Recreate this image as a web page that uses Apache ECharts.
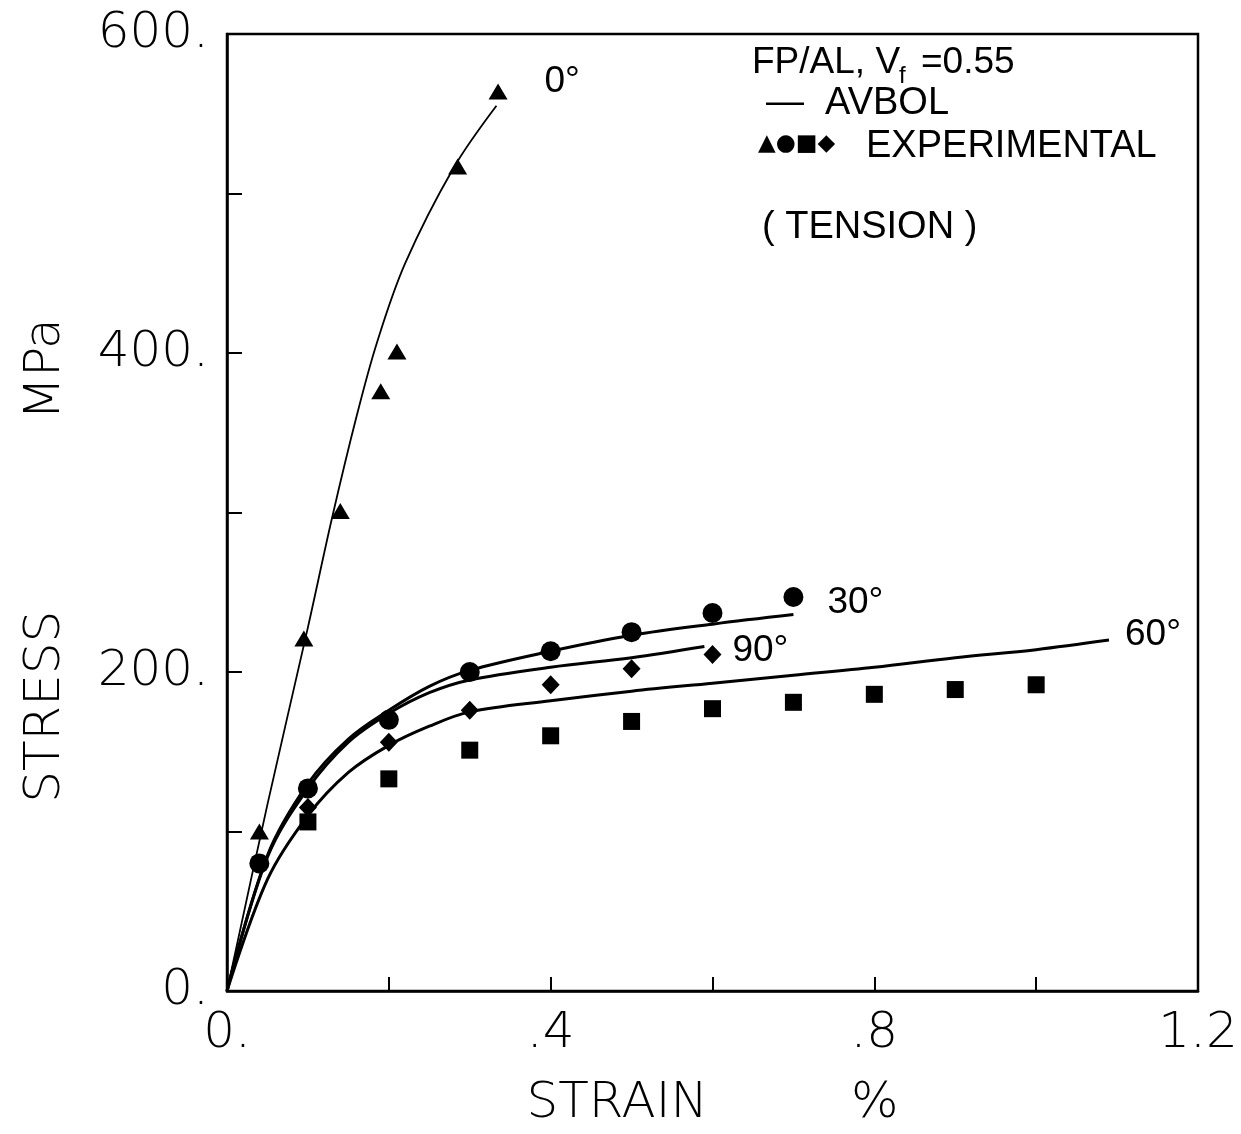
<!DOCTYPE html>
<html>
<head>
<meta charset="utf-8">
<script src="https://cdn.jsdelivr.net/npm/echarts@6/dist/echarts.min.js"></script>
<style>
html,body{margin:0;padding:0;background:#fff;}
#chart{width:1241px;height:1134px;}
</style>
</head>
<body>
<div id="chart"></div>
<script>
// ---- Data ----
// AVBOL model curves (strain %, stress MPa)
const curve0Strain  = [0, 0.05, 0.10, 0.13, 0.16, 0.185, 0.22, 0.28, 0.333];
const curve0Stress  = [0, 117, 228, 297, 360, 406, 456, 516, 555];
const curve30Strain = [0, 0.05, 0.10, 0.15, 0.20, 0.25, 0.30, 0.40, 0.50, 0.60, 0.70];
const curve30Stress = [0, 85, 130, 158, 176, 191, 201, 213, 223, 230, 236];
const curve90Strain = [0, 0.05, 0.10, 0.15, 0.20, 0.25, 0.30, 0.40, 0.50, 0.59];
const curve90Stress = [0, 84, 127, 156, 174, 187, 195, 203, 209, 216];
const curve60Strain = [0, 0.05, 0.10, 0.15, 0.20, 0.25, 0.30, 0.40, 0.50, 0.60, 0.70, 0.80, 0.90, 1.00, 1.09];
const curve60Stress = [0, 70, 110, 137, 154, 166, 175, 182, 188, 193, 198, 203, 209, 214, 220];

// Experimental points
const exp0Strain  = [0.04, 0.095, 0.14, 0.19, 0.21, 0.285, 0.335];
const exp0Stress  = [100, 221, 301, 376, 401, 517, 564];
const exp30Strain = [0.04, 0.1, 0.2, 0.3, 0.4, 0.5, 0.6, 0.7];
const exp30Stress = [80, 127, 170, 200, 213, 225, 237, 247];
const exp90Strain = [0.1, 0.2, 0.3, 0.4, 0.5, 0.6];
const exp90Stress = [115, 156, 176, 192, 202, 211];
const exp60Strain = [0.1, 0.2, 0.3, 0.4, 0.5, 0.6, 0.7, 0.8, 0.9, 1.0];
const exp60Stress = [106, 133, 151, 160, 169, 177, 181, 186, 189, 192];

// Curve labels
const curveNames = ['0°', '30°', '90°', '60°'];

// Tick labels
const xLabelValues = [0, 0.4, 0.8, 1.2];
const xLabelTexts  = ['0.', '.4', '.8', '1.2'];
const yLabelValues = [0, 200, 400, 600];
const yLabelTexts  = ['0.', '200.', '400.', '600.'];

// Texts
const xAxisTitle = ['STRAIN', '%'];
const yAxisTitle = ['STRESS', 'MPa'];
const noteLine1 = ['FP/AL, V', 'f', '=0.55'];
const noteLine2 = '—  AVBOL';
const noteLine3 = ['▲●■◆', 'EXPERIMENTAL'];
const noteLine4 = '( TENSION )';

// ---- Build ----
const zip = (a, b) => a.map((v, i) => [v, b[i]]);
const tickFont = {fontFamily: 'DejaVu Sans', fontSize: 50, fontWeight: 200, color: '#000'};
const noteFont = 'Liberation Sans';

function labelFor(values, texts, v) {
  for (let i = 0; i < values.length; i++) if (Math.abs(values[i] - v) < 1e-6) return texts[i];
  return '';
}

function lineSeries(xs, ys, width, name, offset) {
  return {
    type: 'line', data: zip(xs, ys), smooth: 0.35, symbol: 'none',
    lineStyle: {color: '#000', width: width, opacity: 1},
    endLabel: {show: true, formatter: name, offset: offset, distance: 0,
      fontFamily: noteFont, fontSize: 37, color: '#000'},
    z: 3, silent: true
  };
}
function scatterSeries(xs, ys, symbol, size) {
  return {type: 'scatter', data: zip(xs, ys), symbol: symbol, symbolSize: size,
    itemStyle: {color: '#000', opacity: 1}, z: 4, silent: true};
}

const chart = echarts.init(document.getElementById('chart'), null, {renderer: 'canvas'});
chart.setOption({
  animation: false,
  backgroundColor: '#fff',
  grid: {left: 227, right: 43, top: 34, bottom: 137, show: true, borderColor: '#000', borderWidth: 2.5, backgroundColor: 'transparent'},
  xAxis: {
    type: 'value', min: 0, max: 1.2, interval: 0.2,
    name: xAxisTitle[0] + '         ' + xAxisTitle[1],
    nameLocation: 'middle', nameGap: 88,
    nameTextStyle: tickFont,
    axisLine: {show: true, lineStyle: {color: '#000', width: 2.5}},
    axisTick: {show: true, inside: true, length: 14, lineStyle: {color: '#000', width: 2}},
    axisLabel: Object.assign({margin: 18, formatter: v => labelFor(xLabelValues, xLabelTexts, v), showMaxLabel: true, showMinLabel: true}, tickFont),
    splitLine: {show: false}
  },
  yAxis: {
    type: 'value', min: 0, max: 600, interval: 100,
    name: yAxisTitle[0] + '            ' + yAxisTitle[1],
    nameLocation: 'middle', nameGap: 156, nameRotate: 90,
    nameTextStyle: Object.assign({padding: [0, 96, 0, 0]}, tickFont),
    axisLine: {show: true, lineStyle: {color: '#000', width: 2.5}},
    axisTick: {show: true, inside: true, length: 15, lineStyle: {color: '#000', width: 2}},
    axisLabel: Object.assign({margin: 18, formatter: v => labelFor(yLabelValues, yLabelTexts, v)}, tickFont),
    splitLine: {show: false}
  },
  graphic: [
    {type: 'text', left: 752, top: 44, style: {text: noteLine1[0], fontFamily: noteFont, fontSize: 37, fill: '#000'}},
    {type: 'text', left: 899, top: 64, style: {text: noteLine1[1], fontFamily: noteFont, fontSize: 24, fill: '#000'}},
    {type: 'text', left: 921, top: 44, style: {text: noteLine1[2], fontFamily: noteFont, fontSize: 37, fill: '#000'}},
    {type: 'text', left: 766, top: 85, style: {text: noteLine2, fontFamily: noteFont, fontSize: 38, fill: '#000'}},
    {type: 'text', left: 758, top: 133, style: {text: noteLine3[0], fontFamily: 'DejaVu Sans', fontSize: 23, fill: '#000'}},
    {type: 'text', left: 866, top: 128, style: {text: noteLine3[1], fontFamily: noteFont, fontSize: 38, fill: '#000'}},
    {type: 'text', left: 762, top: 209, style: {text: noteLine4, fontFamily: noteFont, fontSize: 38, fill: '#000'}}
  ],
  series: [
    lineSeries(curve0Strain, curve0Stress, 1.8, curveNames[0], [48, -24]),
    lineSeries(curve30Strain, curve30Stress, 3, curveNames[1], [34, -12]),
    lineSeries(curve90Strain, curve90Stress, 3, curveNames[2], [28, 4]),
    lineSeries(curve60Strain, curve60Stress, 3, curveNames[3], [16, -5]),
    scatterSeries(exp0Strain, exp0Stress, 'triangle', [19, 16]),
    scatterSeries(exp30Strain, exp30Stress, 'circle', 20),
    scatterSeries(exp90Strain, exp90Stress, 'diamond', [18, 19]),
    scatterSeries(exp60Strain, exp60Stress, 'rect', 17)
  ]
});
</script>
</body>
</html>
